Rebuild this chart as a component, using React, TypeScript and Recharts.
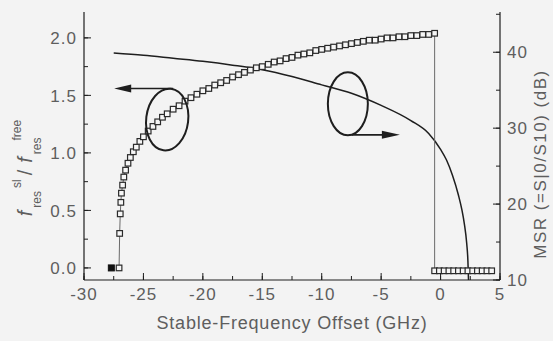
import React from 'react';
import { ComposedChart, Line, XAxis, YAxis, ReferenceDot, Label } from 'recharts';

// squares: slave / free resonance frequency ratio (left axis)
const offsetGHz = [
  -27.05, -27.0, -26.95, -26.9, -26.85, -26.75, -26.65, -26.5, -26.3, -26.1,
  -25.85, -25.6, -25.3, -25.0, -24.6, -24.2, -23.8, -23.4, -23.0, -22.5,
  -22.0, -21.5, -21.0, -20.5, -20.0, -19.5, -19.0, -18.5, -18.0, -17.5,
  -17.0, -16.5, -16.0, -15.5, -15.0, -14.5, -14.0, -13.5, -13.0, -12.5,
  -12.0, -11.5, -11.0, -10.5, -10.0, -9.5, -9.0, -8.5, -8.0, -7.5,
  -7.0, -6.5, -6.0, -5.5, -5.0, -4.5, -4.0, -3.5, -3.0, -2.5,
  -2.0, -1.5, -1.0, -0.5,
  -0.5, -0.1, 0.3, 0.7, 1.1, 1.5, 1.9, 2.3, 2.7, 3.1, 3.5, 3.9, 4.3,
];
const freqRatio = [
  0.0, 0.30, 0.47, 0.57, 0.65, 0.72, 0.79, 0.85, 0.91, 0.96,
  1.01, 1.05, 1.10, 1.14, 1.19, 1.23, 1.27, 1.31, 1.34, 1.38,
  1.41, 1.45, 1.48, 1.51, 1.54, 1.56, 1.59, 1.61, 1.63, 1.66,
  1.68, 1.70, 1.72, 1.74, 1.75, 1.77, 1.79, 1.80, 1.82, 1.83,
  1.85, 1.86, 1.87, 1.89, 1.90, 1.91, 1.92, 1.93, 1.94, 1.95,
  1.96, 1.97, 1.98, 1.98, 1.99, 2.00, 2.00, 2.01, 2.01, 2.02,
  2.02, 2.03, 2.03, 2.04,
  -0.025, -0.025, -0.025, -0.025, -0.025, -0.025, -0.025, -0.025, -0.025, -0.025, -0.025, -0.025, -0.025,
];

// filled square at the start
const startOffset = [-27.7];
const startRatio = [0.0];

// MSR curve (right axis)
const msrOffset = [-27.5, -25, -22.5, -20, -17.5, -15, -12.5, -10, -7.5, -5, -2.5, -1, 0, 0.5, 1.0, 1.5, 1.8, 2.0, 2.2, 2.3, 2.35];
const msrDb = [39.9, 39.6, 39.2, 38.8, 38.3, 37.7, 36.8, 35.7, 34.6, 33.0, 31.0, 29.3, 27.2, 25.8, 23.8, 21.2, 19.2, 17.4, 14.8, 12.5, 10];

const xTicks = [-30, -27.5, -25, -22.5, -20, -17.5, -15, -12.5, -10, -7.5, -5, -2.5, 0, 2.5, 5];
const ratioTicks = [0, 0.25, 0.5, 0.75, 1.0, 1.25, 1.5, 1.75, 2.0];
const msrTicks = [10, 15, 20, 25, 30, 35, 40, 45];

// annotation anchors: ellipse centres in data units
const leftNote = { x: -23.0, y: 1.29 };
const rightNote = { x: -7.8, y: 33.2 };

const squares = offsetGHz.map((x, i) => ({ x, y: freqRatio[i] }));
const startPt = startOffset.map((x, i) => ({ x, y: startRatio[i] }));
const msr = msrOffset.map((x, i) => ({ x, y: msrDb[i] }));

const INK = '#1e1e1e';
const TXT = '#5e5e5e';
const FONT = '"Liberation Sans", Arial, sans-serif';
const TS = -4; // inward (minor) tick length
const TM = 10; // tick margin -> labels sit TM + TS px outside the axis
const GAP = TM + TS;
const MAJOR = 7;

const isStep = (v: number, s: number) => Math.abs(v / s - Math.round(v / s)) < 1e-6;

// labels + longer inward tick for the major values
function makeTick(side: 'left' | 'right' | 'bottom' | 'top', step: number, fmt: (v: number) => string) {
  return (props: any) => {
    const { x, y, payload } = props;
    const v = payload.value;
    const major = isStep(v, step);
    const label = major ? fmt(v) : '';
    const t = { fill: TXT, fontSize: 17, fontFamily: FONT, letterSpacing: 1 };
    if (side === 'left') {
      const ax = x + GAP;
      return (
        <g>
          {major && <line x1={ax} x2={ax + MAJOR} y1={y} y2={y} stroke={INK} strokeWidth={1} />}
          <text x={x - 1} y={y} dy="0.36em" textAnchor="end" {...t}>{label}</text>
        </g>
      );
    }
    if (side === 'right') {
      const ax = x - GAP;
      return (
        <g>
          {major && <line x1={ax} x2={ax - MAJOR} y1={y} y2={y} stroke={INK} strokeWidth={1} />}
          <text x={x + 1} y={y} dy="0.36em" textAnchor="start" {...t}>{label}</text>
        </g>
      );
    }
    if (side === 'bottom') {
      const ay = y - GAP;
      return (
        <g>
          {major && <line x1={x} x2={x} y1={ay} y2={ay - MAJOR} stroke={INK} strokeWidth={1} />}
          <text x={x} y={y + 2} dy="0.72em" textAnchor="middle" {...t}>{label}</text>
        </g>
      );
    }
    return <g />;
  };
}

const SquareDot = (props: any) => {
  const { cx, cy } = props;
  if (cx == null || cy == null) return <g />;
  return <rect x={cx - 2.8} y={cy - 2.8} width={5.6} height={5.6} fill="#f6f6f6" stroke="#2a2a2a" strokeWidth={1.2} />;
};

const FilledDot = (props: any) => {
  const { cx, cy } = props;
  if (cx == null || cy == null) return <g />;
  return <rect x={cx - 3} y={cy - 3} width={6} height={6} fill="#111" stroke="#111" />;
};

const LeftLoop = (props: any) => {
  const { cx, cy } = props;
  return (
    <g>
      <ellipse cx={cx} cy={cy} rx={21} ry={31} fill="none" stroke={INK} strokeWidth={2} transform={`rotate(7, ${cx}, ${cy})`} />
      <line x1={cx + 6} y1={cy - 31} x2={cx - 40} y2={cy - 31} stroke={INK} strokeWidth={1.6} />
      <polygon points={`${cx - 53},${cy - 31} ${cx - 36},${cy - 35} ${cx - 36},${cy - 27}`} fill={INK} />
    </g>
  );
};

const RightLoop = (props: any) => {
  const { cx, cy } = props;
  return (
    <g>
      <ellipse cx={cx} cy={cy} rx={20} ry={31.5} fill="none" stroke={INK} strokeWidth={2} />
      <line x1={cx + 4} y1={cy + 31} x2={cx + 36} y2={cy + 31} stroke={INK} strokeWidth={1.6} />
      <polygon points={`${cx + 52},${cy + 31} ${cx + 34},${cy + 27} ${cx + 34},${cy + 35}`} fill={INK} />
    </g>
  );
};

const XTitle = (props: any) => {
  const { x, y, width } = props.viewBox;
  return (
    <text x={x + width / 2} y={y + 49} textAnchor="middle" fill={TXT} fontSize={18} fontFamily={FONT} letterSpacing={0.8}>
      Stable-Frequency Offset (GHz)
    </text>
  );
};

const LeftTitle = (props: any) => {
  const { y, height } = props.viewBox;
  const bx = 32;
  const by = y + height / 2 + 22;
  return (
    <text x={bx} y={by} textAnchor="middle" transform={`rotate(-90, ${bx}, ${by})`} fill={TXT} fontFamily={FONT} fontSize={20}>
      <tspan fontStyle="italic">f</tspan>
      <tspan fontSize={12} dy={9} dx={3}>res</tspan>
      <tspan fontSize={12} dy={-20} dx={3}>sl</tspan>
      <tspan dy={11} dx={4}>/</tspan>
      <tspan fontStyle="italic" dx={7}>f</tspan>
      <tspan fontSize={12} dy={9} dx={3}>res</tspan>
      <tspan fontSize={12} dy={-20} dx={-3}>free</tspan>
    </text>
  );
};

const RightTitle = (props: any) => {
  const { y, height } = props.viewBox;
  const bx = 546;
  const by = y + height / 2 + 18;
  return (
    <text x={bx} y={by} textAnchor="middle" transform={`rotate(-90, ${bx}, ${by})`} fill={TXT} fontSize={17} fontFamily={FONT} letterSpacing={1.5}>
      MSR (=S|0/S10) (dB)
    </text>
  );
};

const axisLine = { stroke: INK, strokeWidth: 1.2 };
const tickLine = { stroke: INK, strokeWidth: 1 };

export default function App() {
  return (
    <div style={{ position: 'absolute', left: 0, top: 0, width: 553, height: 341, background: '#f3f3f3' }}>
      <ComposedChart width={553} height={341} data={squares} margin={{ top: 12, right: 0, bottom: 0, left: 0 }}>
        <XAxis
          xAxisId="b"
          dataKey="x"
          type="number"
          domain={[-30, 5]}
          ticks={xTicks}
          interval={0}
          height={61}
          tickSize={TS}
          tickMargin={TM}
          tickLine={tickLine}
          axisLine={axisLine}
          tick={makeTick('bottom', 5, (v) => String(v))}
        >
          <Label content={<XTitle />} />
        </XAxis>
        <XAxis
          xAxisId="t"
          orientation="top"
          dataKey="x"
          type="number"
          domain={[-30, 5]}
          ticks={xTicks}
          interval={0}
          height={0}
          tickSize={TS}
          tickMargin={TM}
          tickLine={tickLine}
          axisLine={axisLine}
          tick={makeTick('top', 100, () => '')}
        />
        <YAxis
          yAxisId="left"
          type="number"
          domain={[-0.105, 2.225]}
          ticks={ratioTicks}
          interval={0}
          width={84}
          tickSize={TS}
          tickMargin={TM}
          tickLine={tickLine}
          axisLine={axisLine}
          tick={makeTick('left', 0.5, (v) => v.toFixed(1))}
        >
          <Label content={<LeftTitle />} />
        </YAxis>
        <YAxis
          yAxisId="right"
          orientation="right"
          type="number"
          domain={[10, 45.3]}
          ticks={msrTicks}
          interval={0}
          width={53}
          tickSize={TS}
          tickMargin={TM}
          tickLine={tickLine}
          axisLine={axisLine}
          tick={makeTick('right', 10, (v) => String(v))}
        >
          <Label content={<RightTitle />} />
        </YAxis>

        <Line
          xAxisId="b"
          yAxisId="right"
          data={msr}
          dataKey="y"
          type="monotone"
          stroke={INK}
          strokeWidth={1.5}
          dot={false}
          isAnimationActive={false}
        />
        <Line
          xAxisId="b"
          yAxisId="left"
          data={squares}
          dataKey="y"
          type="linear"
          stroke="#6a6a6a"
          strokeWidth={1}
          dot={<SquareDot />}
          isAnimationActive={false}
        />
        <Line
          xAxisId="b"
          yAxisId="left"
          data={startPt}
          dataKey="y"
          stroke="none"
          dot={<FilledDot />}
          isAnimationActive={false}
        />

        <ReferenceDot xAxisId="b" yAxisId="left" x={leftNote.x} y={leftNote.y} r={0} shape={<LeftLoop />} />
        <ReferenceDot xAxisId="b" yAxisId="right" x={rightNote.x} y={rightNote.y} r={0} shape={<RightLoop />} />
      </ComposedChart>
    </div>
  );
}
